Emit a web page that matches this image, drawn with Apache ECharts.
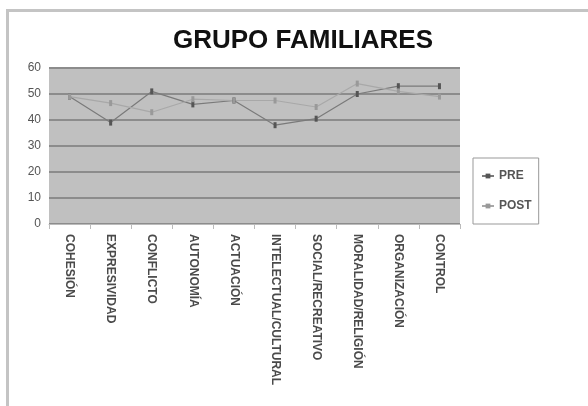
<!DOCTYPE html>
<html><head><meta charset="utf-8">
<script src="https://cdn.jsdelivr.net/npm/echarts@6/dist/echarts.min.js"></script>
<style>html,body{margin:0;padding:0;background:#fff}#c{width:588px;height:406px}</style>
</head><body><div id="c"></div>
<script>
const categories = ['COHESIÓN','EXPRESIVIDAD','CONFLICTO','AUTONOMÍA','ACTUACIÓN','INTELECTUAL/CULTURAL','SOCIAL/RECREATIVO','MORALIDAD/RELIGIÓN','ORGANIZACIÓN','CONTROL'];
const pre  = [49, 39, 51, 46, 47.5, 38, 40.5, 50, 53, 53];
const post = [49, 46.5, 43, 48, 47.5, 47.5, 45, 54, 51, 49];
const yTicks = [0, 10, 20, 30, 40, 50, 60];

const chart = echarts.init(document.getElementById('c'));
chart.setOption({
  animation: false,
  backgroundColor: '#fff',
  title: {
    text: 'GRUPO FAMILIARES', left: 173, top: 28, padding: 0,
    textStyle: {fontFamily: 'Liberation Sans', fontWeight: 'bold', fontSize: 26, color: '#111'}
  },
  graphic: [{type:'rect', shape:{x:7.5, y:10.5, width:700, height:500}, style:{fill:'none', stroke:'#c4c4c4', lineWidth:3}}],
  legend: {
    orient: 'vertical', left: 473, top: 158, itemGap: 18, itemWidth: 12, itemHeight: 6,
    padding: [12, 7, 12, 8],
    borderColor: '#999', borderWidth: 1,
    textStyle: {fontFamily: 'Liberation Sans', fontSize: 12, fontWeight: 'bold', color: '#555', padding: [0,0,0,0]},
    data: ['PRE', 'POST']
  },
  grid: {left: 49, right: 128, top: 68, bottom: 182, backgroundColor: '#c0c0c0', show: true, borderWidth: 0},
  xAxis: {
    type: 'category', data: categories, boundaryGap: true,
    axisLine: {lineStyle: {color: '#bbb'}},
    axisTick: {show: true, lineStyle: {color: '#bbb'}},
    axisLabel: {rotate: -90, interval: 0, fontFamily: 'Liberation Sans', fontSize: 12, fontWeight: 'bold', color: '#4a4a4a', margin: 10}
  },
  yAxis: {
    type: 'value', min: yTicks[0], max: yTicks[yTicks.length-1], interval: 10,
    axisLine: {show: false},
    axisTick: {show: false},
    axisLabel: {fontFamily: 'Liberation Sans', fontSize: 12, color: '#555', margin: 8},
    splitLine: {lineStyle: {color: '#8c8c8c', width: 2}}
  },
  series: [
    {name: 'PRE', type: 'line', data: pre, symbol: 'rect', symbolSize: [3, 6],
     lineStyle: {color: '#7a7a7a', width: 1.2}, itemStyle: {color: '#555'}},
    {name: 'POST', type: 'line', data: post, symbol: 'rect', symbolSize: [3, 6],
     lineStyle: {color: '#a8a8a8', width: 1.2}, itemStyle: {color: '#999'}}
  ]
});
</script></body></html>
